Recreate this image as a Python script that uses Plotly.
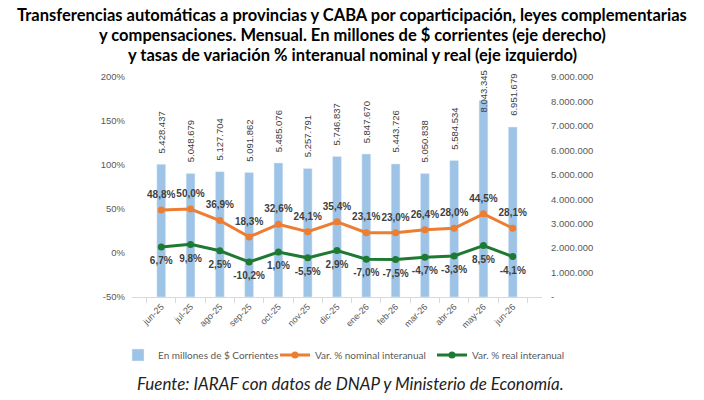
import plotly.graph_objects as go

months = ["jun-25", "jul-25", "ago-25", "sep-25", "oct-25", "nov-25", "dic-25",
          "ene-26", "feb-26", "mar-26", "abr-26", "may-26", "jun-26"]
transfers = [5428437, 5048679, 5127704, 5091862, 5485076, 5257791, 5746837,
             5847670, 5443726, 5050838, 5584534, 8043345, 6951679]
nominal = [48.8, 50.0, 36.9, 18.3, 32.6, 24.1, 35.4, 23.1, 23.0, 26.4, 28.0, 44.5, 28.1]
real = [6.7, 9.8, 2.5, -10.2, 1.0, -5.5, 2.9, -7.0, -7.5, -4.7, -3.3, 8.5, -4.1]

money_ticks = [0, 1000000, 2000000, 3000000, 4000000, 5000000, 6000000, 7000000, 8000000, 9000000]
pct_ticks = [-50, 0, 50, 100, 150, 200]

title_lines = [
    "Transferencias automáticas a provincias y CABA por coparticipación, leyes complementarias",
    "y compensaciones. Mensual. En millones de $ corrientes (eje derecho)",
    "y tasas de variación % interanual nominal y real (eje izquierdo)",
]
source = "Fuente: IARAF con datos de DNAP y Ministerio de Economía."


def fmt_int(v):
    return f"{v:,}".replace(",", ".")


def fmt_pct(v):
    return f"{v:.1f}%".replace(".", ",")


money_text = ["-" if v == 0 else fmt_int(v) for v in money_ticks]
pct_text = [f"{v}%" for v in pct_ticks]

BAR = "#9dc3e6"
ORANGE = "#ed7d31"
GREEN = "#1e7a33"
LABEL = "#404040"
AXIS = "#595959"
LBLFONT = dict(family="Arial", size=10, color=LABEL, weight="bold")

# layout geometry (pixels)
W, H = 704, 400
L, R, T, B = 132, 162, 77, 103
PH = H - T - B
MONEY_MAX = 9000000
PX_PER_UNIT = PH / MONEY_MAX
LABEL_LEN_PX = 46
LABEL_GAP_PX = 9
TOP_LIMIT_PX = 9  # labels may rise this far above the plot top

fig = go.Figure()
fig.add_trace(go.Bar(
    x=months, y=transfers, yaxis="y", name="En millones de $ Corrientes",
    marker_color=BAR, width=0.3,
))
fig.add_trace(go.Scatter(
    x=months, y=nominal, yaxis="y2", name="Var. % nominal interanual",
    mode="lines+markers", line=dict(color=ORANGE, width=3),
    marker=dict(color=ORANGE, size=7), cliponaxis=False,
))
fig.add_trace(go.Scatter(
    x=months, y=real, yaxis="y2", name="Var. % real interanual",
    mode="lines+markers", line=dict(color=GREEN, width=3),
    marker=dict(color=GREEN, size=7), cliponaxis=False,
))
# data labels (invisible larger markers give the label offset)
fig.add_trace(go.Scatter(
    x=months, y=nominal, yaxis="y2", showlegend=False, hoverinfo="skip",
    mode="markers+text", marker=dict(size=14, color="rgba(0,0,0,0)"),
    text=[fmt_pct(v) for v in nominal], textposition="top center",
    textfont=LBLFONT, cliponaxis=False,
))
fig.add_trace(go.Scatter(
    x=months, y=real, yaxis="y2", showlegend=False, hoverinfo="skip",
    mode="markers+text", marker=dict(size=14, color="rgba(0,0,0,0)"),
    text=[fmt_pct(v) for v in real], textposition="bottom center",
    textfont=LBLFONT, cliponaxis=False,
))

annotations = []
# bar value labels, rotated; pinned to the top when they would overflow
for m, v in zip(months, transfers):
    top_px = v * PX_PER_UNIT + LABEL_GAP_PX + LABEL_LEN_PX
    if top_px > PH + TOP_LIMIT_PX:
        annotations.append(dict(
            x=m, y=MONEY_MAX, xref="x", yref="y", text=fmt_int(v), textangle=-90,
            yanchor="top", xanchor="center", yshift=TOP_LIMIT_PX, showarrow=False,
            font=dict(family="Arial", size=9.5, color=LABEL)))
    else:
        annotations.append(dict(
            x=m, y=v, xref="x", yref="y", text=fmt_int(v), textangle=-90,
            yanchor="bottom", xanchor="center", yshift=LABEL_GAP_PX, showarrow=False,
            font=dict(family="Arial", size=9.5, color=LABEL)))

for i, line in enumerate(title_lines):
    annotations.append(dict(
        text=line, xref="paper", yref="paper", x=(352 - L) / (W - L - R),
        y=(H - B - (15 + 20 * i)) / PH, xanchor="center", yanchor="middle",
        showarrow=False, font=dict(family="Lato", size=16.5, color="black", weight="bold")))

annotations.append(dict(
    text=f"<i>{source}</i>", xref="paper", yref="paper",
    x=(350 - L) / (W - L - R), y=(H - B - 383) / PH, yanchor="middle", xanchor="center",
    showarrow=False, font=dict(family="Lato", size=17, color="#222222")))

fig.update_layout(
    width=W, height=H,
    margin=dict(l=L, r=R, t=T, b=B, autoexpand=False),
    paper_bgcolor="white", plot_bgcolor="white",
    barmode="overlay",
    showlegend=True,
    legend=dict(orientation="h", x=(118 - L) / (W - L - R), xanchor="left",
                y=(H - B - 355) / PH, yanchor="middle",
                font=dict(family="Lato", size=10, color=AXIS),
                entrywidth=112, entrywidthmode="pixels",
                itemwidth=30, traceorder="normal", bgcolor="rgba(0,0,0,0)"),
    xaxis=dict(
        type="category", showgrid=False, showline=True, linecolor="#d9d9d9",
        ticks="outside", tickson="boundaries", tickcolor="#d9d9d9", ticklen=5,
        tickangle=-45, tickfont=dict(family="Arial", size=9, color=AXIS),
    ),
    yaxis=dict(
        side="right", range=[0, MONEY_MAX], tickvals=money_ticks, ticktext=money_text,
        showgrid=False, zeroline=False, showline=False,
        tickfont=dict(family="Arial", size=9.5, color=AXIS), ticklabelstandoff=8,
    ),
    yaxis2=dict(
        side="left", overlaying="y", range=[-50, 200], tickvals=pct_ticks, ticktext=pct_text,
        showgrid=False, zeroline=False, showline=False,
        tickfont=dict(family="Arial", size=9.5, color=AXIS), ticklabelstandoff=6,
    ),
    annotations=annotations,
)

fig.write_html("out.html")
